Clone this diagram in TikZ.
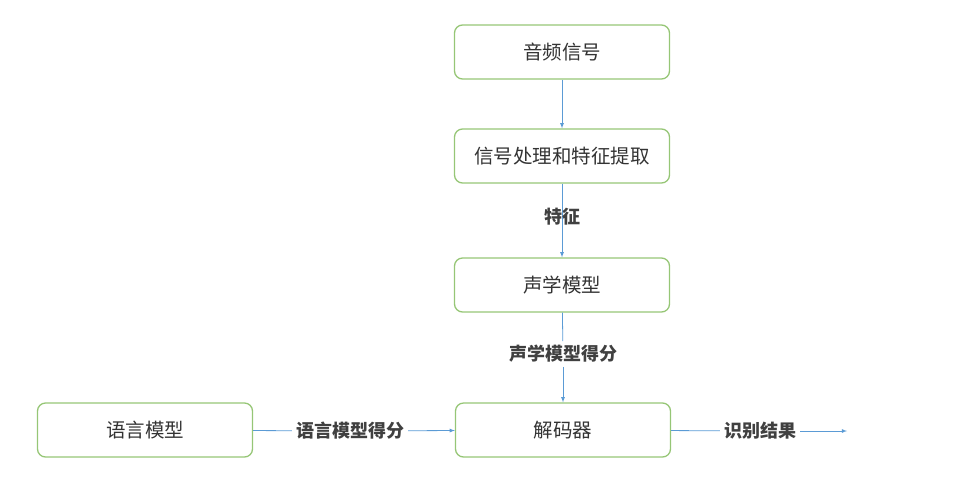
\documentclass[tikz,border=0pt]{standalone}
\usepackage{fontspec}
\setmainfont{Noto Sans CJK SC}
\usetikzlibrary{arrows}
\definecolor{boxgreen}{RGB}{150,198,118}
\definecolor{lineblue}{RGB}{91,155,213}
\tikzset{
  stepbox/.style={draw=boxgreen, line width=1.3pt, rounded corners=8pt, minimum width=215pt, minimum height=54pt, font=\fontsize{19.5}{23}\selectfont, text=black!80},
  flow/.style={draw=lineblue, line width=0.8pt},
  lbl/.style={font=\fontsize{18}{21}\selectfont\bfseries, text=black!75, inner sep=4pt}
}
\begin{document}
\begin{tikzpicture} [x=1pt,y=-1pt]
        \useasboundingbox (0,0) rectangle (960,499);
        \node[stepbox] (audio) at (562,52) {音频信号};
        \node[stepbox] (feat) at (562,156) {信号处理和特征提取};
        \node[stepbox] (am) at (562,285) {声学模型};
        \node[stepbox] (dec) at (563,430) {解码器};
        \node[stepbox] (lm) at (145,430) {语言模型};
        \draw[flow,-latex] (audio) -- (feat);
        \draw[flow,-latex] (feat) -- (am);
        % labels on the connectors
        \node[lbl] (tz) at (562,217) {特征};
        \node[lbl] (ams) at (563,354) {声学模型得分};
        \node[lbl] (lms) at (350,431) {语言模型得分};
        \node[lbl] (res) at (760,431) {识别结果};
        \coordinate (out) at (847,431);
        \draw[flow] (am) -- (ams);
        \draw[flow,-latex] (ams) -- (dec);
        \draw[flow] (lm) -- (lms);
        \draw[flow,-latex] (lms) -- (dec);
        \draw[flow] (dec) -- (res);
        \draw[flow,-latex] (res) -- (out);
        \end{tikzpicture}
\end{document}
